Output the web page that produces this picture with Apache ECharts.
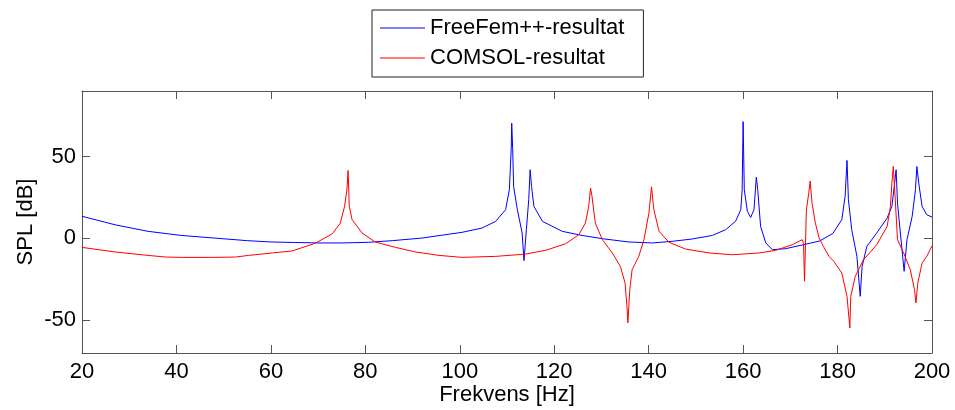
<!DOCTYPE html>
<html>
<head>
<meta charset="utf-8">
<script src="https://cdn.jsdelivr.net/npm/echarts@6.0.0/dist/echarts.min.js"></script>
<style>
html,body{margin:0;padding:0;background:#fff;}
#chart{width:955px;height:410px;}
</style>
</head>
<body>
<div id="chart"></div>
<script>
// ---- Data ----
var freeFemFreq = [20, 27, 34, 41, 48, 55, 60, 65, 70, 75, 80.7, 85.7, 92, 100.5, 104.7, 107.6, 109.7, 110.5, 110.9, 111.0, 111.2, 111.4, 112.2, 113.2, 113.6, 114.1, 114.6, 114.9, 115.2, 115.7, 117.5, 121.7, 125.9, 130.2, 135.8, 140.8, 145, 149.2, 153.5, 156.3, 158.4, 159.5, 159.8, 160.0, 160.25, 160.9, 161.6, 162.3, 162.8, 163.1, 163.7, 164.8, 166.2, 169.0, 173.2, 176.2, 179.0, 180.9, 181.6, 182.0, 182.3, 183.0, 184.1, 184.8, 185.2, 186.2, 188.3, 190.5, 191.5, 192.0, 192.4, 192.7, 193.3, 194.1, 194.7, 195.8, 196.5, 196.8, 197.2, 197.9, 198.9, 200];
var freeFemSPL = [13.5, 8.3, 4.3, 1.8, 0.2, -1.4, -2.2, -2.5, -2.8, -2.8, -2.4, -1.4, 0.2, 3.7, 6.3, 10.4, 17.5, 29.7, 55, 70.3, 55, 31.7, 17.5, 3.3, -13.6, 5.3, 23.6, 41.9, 31.7, 19.5, 10.4, 4.3, 1.8, -0.2, -2.2, -2.8, -1.8, -0.4, 1.8, 5.3, 10.4, 17.5, 29.7, 71.3, 29.7, 16.5, 12.8, 17.5, 37.4, 29.7, 7.3, -2.8, -6.9, -6.3, -3.6, -1.6, 3, 11.4, 25.6, 47.6, 23.6, 5.3, -11, -35.4, -17.1, -4.9, 3.3, 12.4, 19.5, 31.7, 41.9, 21.5, 3.3, -20.1, -0.8, 13.4, 29.7, 43.9, 33.7, 19.5, 14.4, 13];

var comsolFreq = [20, 27, 34, 37.7, 41, 48, 52.5, 55.3, 60.3, 64.5, 69.4, 73, 74.7, 75.6, 76.1, 76.35, 76.6, 77.2, 79.3, 82.1, 86.4, 90.6, 95.6, 100.5, 107.6, 113.9, 118.2, 122.4, 125.2, 126.6, 127.3, 127.7, 128.0, 128.7, 130.2, 132.3, 134.0, 135.0, 135.4, 135.6, 136.0, 136.5, 137.9, 139.0, 140.05, 140.6, 141.1, 142.2, 144.3, 147.8, 152.8, 157.7, 163.4, 166.9, 170.4, 172.5, 172.8, 173.0, 173.4, 173.9, 174.2, 174.6, 175.3, 176.1, 177.0, 178.2, 179.2, 180.9, 182.0, 182.6, 182.8, 183.75, 185.5, 188.3, 190.5, 191.2, 191.5, 191.8, 192.1, 192.7, 194.0, 195.4, 196.3, 196.6, 197.0, 197.9, 198.9, 200];
var comsolSPL = [-5.5, -8.3, -10.4, -11.4, -11.6, -11.6, -11.4, -10.4, -8.9, -7.7, -3, 2.8, 9.3, 19.5, 29.7, 41.5, 19.5, 11.4, 3.3, -2.2, -5.5, -8.3, -10.4, -11.6, -11, -9.6, -7.3, -3.3, 2.2, 9.3, 19.5, 30.7, 25.6, 9.3, -0.8, -8.9, -17.1, -27.2, -41.5, -51.6, -31.3, -19.1, -11, -0.8, 15.4, 31.5, 17.5, 4.3, -2.4, -6.5, -8.9, -10, -8.9, -7.3, -3.9, -0.8, -3, -26.2, 17.5, 27.6, 35, 21.5, 9.3, 0.2, -4.9, -11, -14, -21.1, -35.4, -54.7, -35.4, -23.2, -13, -3.9, 7.3, 19.5, 33.7, 43.9, 29.7, -0.8, -8.9, -19.1, -31.3, -39.4, -27.2, -15, -11, -4.5];

var seriesNames = ['FreeFem++-resultat', 'COMSOL-resultat'];
var yTickValues = [-50, 0, 50];
var xMin = 20, xMax = 200, xStep = 20;
var yMin = -70, yMax = 90;

function zip(xs, ys) { return xs.map(function (x, i) { return [x, ys[i]]; }); }

var FONT = 'Liberation Sans, Arial, sans-serif';
var AXC = '#555';

var chart = echarts.init(document.getElementById('chart'), null, { renderer: 'canvas' });
chart.setOption({
  animation: false,
  backgroundColor: '#fff',
  grid: { left: 82, right: 23, top: 91, bottom: 57, containLabel: false, outerBoundsMode: 'none' },
  legend: {
    orient: 'vertical',
    left: 372, top: 10,
    padding: [7, 19, 8, 8],
    icon: 'rect',
    itemWidth: 45, itemHeight: 1, itemGap: 8,
    borderColor: '#222', borderWidth: 1, borderRadius: 0,
    backgroundColor: '#fff',
    textStyle: { fontSize: 22, fontFamily: FONT, color: '#000', lineHeight: 22 },
    data: seriesNames
  },
  xAxis: [{
    type: 'value', min: xMin, max: xMax, interval: xStep, position: 'bottom',
    axisLine: { show: true, onZero: false, lineStyle: { color: AXC } },
    axisTick: { show: true, inside: true, length: 8, lineStyle: { color: AXC } },
    axisLabel: { fontSize: 22, fontFamily: FONT, color: '#000', margin: 8 },
    splitLine: { show: false },
    name: 'Frekvens [Hz]', nameLocation: 'middle', nameGap: 31, nameMoveOverlap: false,
    nameTextStyle: { fontSize: 22, fontFamily: FONT, color: '#000' }
  }, {
    type: 'value', min: xMin, max: xMax, interval: xStep, position: 'top',
    axisLine: { show: true, onZero: false, lineStyle: { color: AXC } },
    axisTick: { show: true, inside: true, length: 8, lineStyle: { color: AXC } },
    axisLabel: { show: false },
    splitLine: { show: false }
  }],
  yAxis: [{
    type: 'value', min: yMin, max: yMax, position: 'left',
    axisLine: { show: true, onZero: false, lineStyle: { color: AXC } },
    axisTick: { show: true, inside: true, length: 8, customValues: yTickValues, lineStyle: { color: AXC } },
    axisLabel: { customValues: yTickValues, fontSize: 22, fontFamily: FONT, color: '#000', margin: 6 },
    splitLine: { show: false },
    name: 'SPL [dB]', nameLocation: 'middle', nameGap: 45, nameMoveOverlap: false,
    nameTextStyle: { fontSize: 22, fontFamily: FONT, color: '#000' }
  }, {
    type: 'value', min: yMin, max: yMax, position: 'right',
    axisLine: { show: true, onZero: false, lineStyle: { color: AXC } },
    axisTick: { show: true, inside: true, length: 8, customValues: yTickValues, lineStyle: { color: AXC } },
    axisLabel: { show: false },
    splitLine: { show: false }
  }],
  series: [{
    name: seriesNames[0], type: 'line', symbol: 'none', showSymbol: false,
    xAxisIndex: 0, yAxisIndex: 0,
    color: '#0000ff', lineStyle: { color: '#0000ff', width: 1 },
    data: zip(freeFemFreq, freeFemSPL)
  }, {
    name: seriesNames[1], type: 'line', symbol: 'none', showSymbol: false,
    xAxisIndex: 0, yAxisIndex: 0,
    color: '#ff0000', lineStyle: { color: '#ff0000', width: 1 },
    data: zip(comsolFreq, comsolSPL)
  }]
});
</script>
</body>
</html>
